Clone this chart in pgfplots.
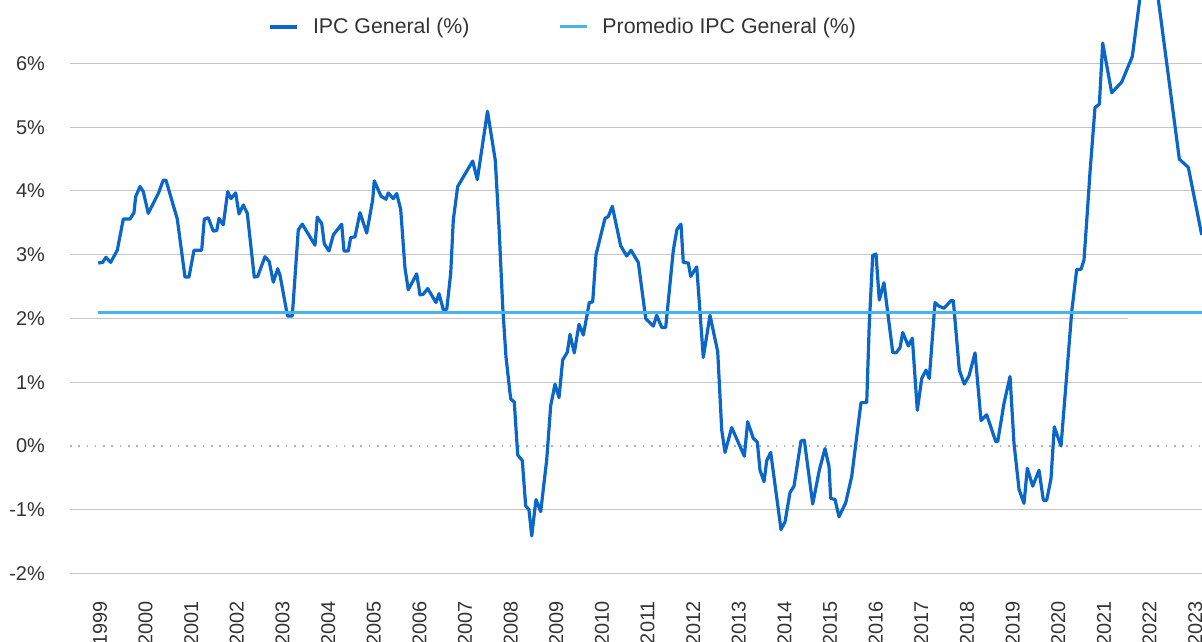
\documentclass[border=0pt]{standalone}
\usepackage{fontspec}
\setmainfont{Liberation Sans}
\usepackage{pgfplots}
\pgfplotsset{compat=1.18}

\definecolor{ipcblue}{HTML}{0A66C8}
\definecolor{meanblue}{HTML}{48B4EA}
\definecolor{gridgray}{HTML}{C6C6C6}
\definecolor{dotgray}{HTML}{B0B0B0}
\definecolor{txt}{HTML}{333333}

\begin{document}
\begin{tikzpicture}
\begin{axis}[
    scale only axis,
    width=1132bp, height=573.5bp,
    xmin=1998.343, xmax=2023.15,
    ymin=-2, ymax=6.996,
    xtick={1999,2000,2001,2002,2003,2004,2005,2006,2007,2008,2009,2010,2011,
           2012,2013,2014,2015,2016,2017,2018,2019,2020,2021,2022,2023},
    ytick={-2,-1,1,3,4,5,6},
    extra y ticks={0,2},
    extra y tick style={grid=none},
    xticklabel={\pgfmathprintnumber[fixed,precision=0,1000 sep={},assume math mode=true]{\tick}},
    yticklabel={\pgfmathprintnumber[fixed,precision=0,assume math mode=true]{\tick}\%},
    axis line style={draw=none},
    major tick length=0pt,
    tick style={draw=none},
    ymajorgrids,
    grid style={gridgray, line width=1bp},
    tick label style={font=\fontsize{20}{24}\selectfont, text=txt},
    yticklabel style={anchor=east, inner sep=0pt, xshift=-25bp},
    xticklabel style={anchor=east, inner sep=0pt, yshift=-27.5bp, rotate=90},
    legend style={at={(0.435,0.953)}, anchor=center, draw=none, fill=none,
        legend columns=2, font=\fontsize{21.4}{25}\selectfont, text=txt,
        nodes={inner sep=0pt},
        /tikz/every odd column/.append style={column sep=14bp},
        /tikz/every even column/.append style={column sep=89bp}},
    legend image code/.code={\draw[#1] (0bp,0bp) -- (27bp,0bp);},
]
\coordinate (bl) at (rel axis cs:0,0);
\coordinate (tr) at (rel axis cs:1,1);

% 0% reference (dotted) and the shorter 2% grid line
\addplot[forget plot, dotgray, line width=1.6bp, dash pattern=on 1.6bp off 6.7bp]
    coordinates {(1998.343,0) (2023.15,0)};
\addplot[forget plot, gridgray, line width=1bp]
    coordinates {(1998.343,2) (2021.53,2)};

% IPC General (%)
\addplot[ipcblue, line width=3.2bp, line join=round] coordinates {
(1998.963,2.87) (1999.059,2.88) (1999.131,2.96) (1999.234,2.88) (1999.379,3.07)
(1999.511,3.56) (1999.657,3.56) (1999.745,3.66) (1999.782,3.91) (1999.877,4.07)
(1999.949,3.99) (2000.058,3.65) (2000.278,3.96) (2000.387,4.17) (2000.446,4.17)
(2000.694,3.56) (2000.863,2.65) (2000.950,2.65) (2001.060,3.07) (2001.229,3.07)
(2001.286,3.56) (2001.373,3.58) (2001.483,3.37) (2001.558,3.38) (2001.608,3.57)
(2001.702,3.47) (2001.799,3.99) (2001.871,3.88) (2001.974,3.97) (2002.046,3.64)
(2002.140,3.78) (2002.228,3.65) (2002.381,2.65) (2002.456,2.66) (2002.616,2.97)
(2002.710,2.89) (2002.798,2.57) (2002.894,2.78) (2002.945,2.68) (2003.109,2.04)
(2003.214,2.04) (2003.346,3.39) (2003.433,3.48) (2003.712,3.15) (2003.762,3.59)
(2003.859,3.49) (2003.916,3.17) (2004.019,3.06) (2004.113,3.31) (2004.297,3.48)
(2004.347,3.06) (2004.442,3.06) (2004.494,3.27) (2004.588,3.28) (2004.698,3.66)
(2004.845,3.34) (2004.976,3.86) (2005.011,4.16) (2005.158,3.92) (2005.268,3.87)
(2005.318,3.97) (2005.428,3.88) (2005.502,3.96) (2005.590,3.71) (2005.684,2.79)
(2005.756,2.45) (2005.941,2.70) (2006.013,2.37) (2006.085,2.38) (2006.182,2.47)
(2006.363,2.25) (2006.429,2.39) (2006.523,2.14) (2006.598,2.14) (2006.686,2.71)
(2006.743,3.55) (2006.839,4.07) (2007.168,4.47) (2007.269,4.18) (2007.492,5.25)
(2007.663,4.48) (2007.744,3.44) (2007.825,2.19) (2007.897,1.40) (2008.000,0.74)
(2008.079,0.69) (2008.154,-0.14) (2008.255,-0.23) (2008.329,-0.94) (2008.401,-1.00)
(2008.461,-1.41) (2008.555,-0.84) (2008.658,-1.03) (2008.789,-0.22) (2008.877,0.63)
(2008.971,0.97) (2009.059,0.76) (2009.140,1.35) (2009.241,1.47) (2009.300,1.75)
(2009.394,1.46) (2009.497,1.91) (2009.592,1.74) (2009.723,2.25) (2009.797,2.26)
(2009.870,3.00) (2010.067,3.57) (2010.140,3.60) (2010.227,3.76) (2010.411,3.14)
(2010.543,2.98) (2010.637,3.07) (2010.797,2.88) (2010.959,2.00) (2011.126,1.88)
(2011.200,2.05) (2011.310,1.86) (2011.397,1.86) (2011.564,3.07) (2011.645,3.40)
(2011.732,3.48) (2011.783,2.88) (2011.893,2.87) (2011.945,2.66) (2012.077,2.81)
(2012.221,1.39) (2012.368,2.05) (2012.537,1.48) (2012.625,0.25) (2012.697,-0.10)
(2012.844,0.29) (2013.120,-0.16) (2013.194,0.38) (2013.317,0.12) (2013.405,0.06)
(2013.464,-0.38) (2013.552,-0.56) (2013.611,-0.23) (2013.698,-0.10) (2013.924,-1.31)
(2014.012,-1.19) (2014.121,-0.73) (2014.209,-0.63) (2014.362,0.08) (2014.435,0.09)
(2014.619,-0.91) (2014.763,-0.38) (2014.888,-0.04) (2014.976,-0.32) (2015.013,-0.82)
(2015.108,-0.84) (2015.195,-1.11) (2015.342,-0.89) (2015.473,-0.48) (2015.561,0.02)
(2015.677,0.68) (2015.802,0.68) (2015.859,1.92) (2015.934,2.99) (2016.006,3.01)
(2016.078,2.29) (2016.181,2.56) (2016.372,1.47) (2016.444,1.46) (2016.532,1.54)
(2016.591,1.78) (2016.714,1.57) (2016.802,1.69) (2016.911,0.56) (2017.008,1.06)
(2017.102,1.19) (2017.174,1.06) (2017.299,2.25) (2017.371,2.20) (2017.496,2.16)
(2017.650,2.28) (2017.700,2.28) (2017.832,1.19) (2017.941,0.97) (2018.044,1.10)
(2018.176,1.46) (2018.307,0.40) (2018.432,0.49) (2018.629,0.07) (2018.673,0.07)
(2018.811,0.67) (2018.943,1.09) (2019.030,0.04) (2019.140,-0.68) (2019.249,-0.90)
(2019.322,-0.35) (2019.440,-0.63) (2019.578,-0.38) (2019.673,-0.85) (2019.747,-0.85)
(2019.841,-0.51) (2019.913,0.30) (2020.060,0.00) (2020.170,0.98) (2020.295,2.11)
(2020.404,2.77) (2020.499,2.77) (2020.564,2.92) (2020.637,3.67) (2020.696,4.30)
(2020.805,5.31) (2020.900,5.36) (2020.974,6.32) (2021.171,5.54) (2021.391,5.71)
(2021.623,6.11) (2021.770,6.92) (2021.923,7.80) (2022.011,7.90) (2022.120,7.40)
(2022.377,6.00) (2022.653,4.50) (2022.850,4.37) (2023.144,3.31)
};
\addlegendentry{IPC General (\%)}

% Promedio IPC General (%)
\addplot[meanblue, line width=3bp] coordinates {(1998.963,2.10) (2023.15,2.10)};
\addlegendentry{Promedio IPC General (\%)}
\end{axis}
\pgfresetboundingbox
\path[use as bounding box] ([xshift=-70bp,yshift=-68.5bp]bl) rectangle (tr);
\end{tikzpicture}
\end{document}
